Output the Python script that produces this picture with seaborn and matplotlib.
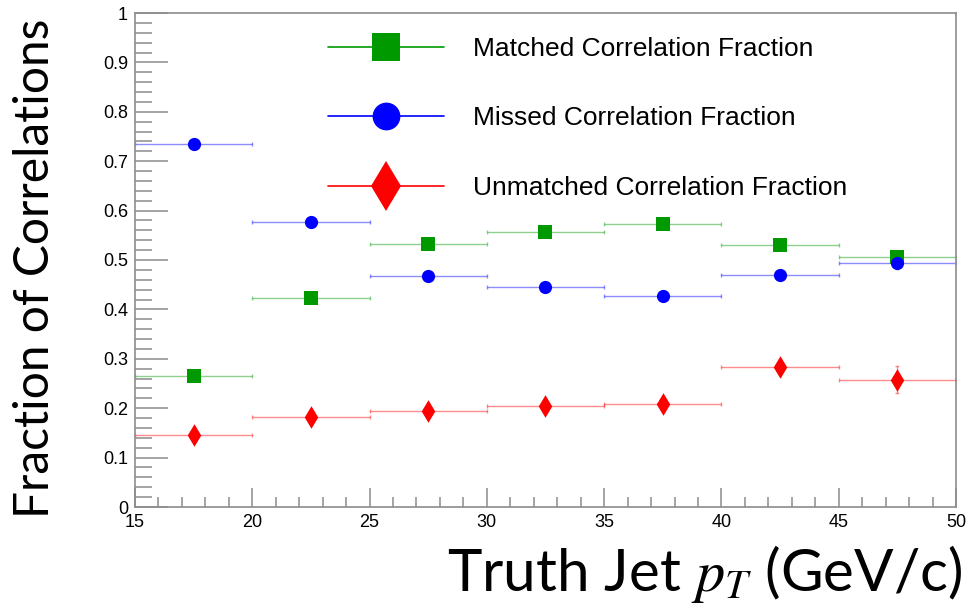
import numpy as np
import pandas as pd
import matplotlib
matplotlib.use("Agg")
import matplotlib.pyplot as plt
from matplotlib.lines import Line2D
from matplotlib.ticker import MultipleLocator, FuncFormatter
import seaborn as sns

# ---- data ----
pt_centers = [17.5, 22.5, 27.5, 32.5, 37.5, 42.5, 47.5]
pt_halfwidth = [2.5, 2.5, 2.5, 2.5, 2.5, 2.5, 2.5]
matched = [0.265, 0.424, 0.533, 0.556, 0.572, 0.531, 0.507]
matched_err = [0.004, 0.005, 0.006, 0.007, 0.008, 0.010, 0.012]
missed = [0.735, 0.576, 0.467, 0.445, 0.427, 0.469, 0.493]
missed_err = [0.004, 0.005, 0.006, 0.007, 0.008, 0.010, 0.012]
unmatched = [0.145, 0.183, 0.195, 0.205, 0.209, 0.284, 0.258]
unmatched_err = [0.004, 0.005, 0.006, 0.007, 0.009, 0.012, 0.028]
labels = ["Matched Correlation Fraction", "Missed Correlation Fraction",
          "Unmatched Correlation Fraction"]
colors = ["#009900", "#0000ff", "#ff0000"]
markers = ["s", "o", "d"]

sns.set_theme(style="white")
plt.rcParams["font.family"] = ["Liberation Sans", "DejaVu Sans"]
plt.rcParams["text.color"] = "black"
plt.rcParams["mathtext.fontset"] = "stix"

fig = plt.figure(figsize=(9.69, 6.06), dpi=100)
ax = fig.add_axes([135 / 969, 1 - 507 / 606, (956 - 135) / 969, (507 - 13) / 606])

rows = []
for name, vals, errs in zip(labels, [matched, missed, unmatched],
                            [matched_err, missed_err, unmatched_err]):
    for x, w, v, e in zip(pt_centers, pt_halfwidth, vals, errs):
        rows.append(dict(series=name, pt=x, xerr=w, frac=v, yerr=e))
df = pd.DataFrame(rows)

msizes = {"s": 9.5, "o": 9.5, "d": 11.5}
for name, col, mk in zip(labels, colors, markers):
    sub = df[df.series == name]
    ax.errorbar(sub.pt, sub.frac, xerr=sub.xerr, yerr=sub.yerr, fmt="none",
                ecolor=col, elinewidth=1.0, alpha=0.45, capsize=1.5,
                capthick=1.0, zorder=2)
    sns.scatterplot(data=sub, x="pt", y="frac", marker=mk, color=col,
                    s=msizes[mk] ** 2, edgecolor=col, linewidth=0,
                    ax=ax, zorder=3, legend=False)

ax.set_xlim(15, 50)
ax.set_ylim(0, 1)
ax.set_xlabel("")
ax.set_ylabel("")

ax.xaxis.set_major_locator(MultipleLocator(5))
ax.xaxis.set_minor_locator(MultipleLocator(1))
ax.yaxis.set_major_locator(MultipleLocator(0.1))
ax.yaxis.set_minor_locator(MultipleLocator(0.02))
ax.yaxis.set_major_formatter(FuncFormatter(lambda v, p: f"{v:g}"))
ax.xaxis.set_major_formatter(FuncFormatter(lambda v, p: f"{v:g}"))

gray = "#8c8c8c"
for s in ax.spines.values():
    s.set_color(gray)
    s.set_linewidth(1.2)
    s.set_visible(True)
ax.tick_params(axis="y", which="major", direction="in", length=24, width=1.1,
               color=gray, labelsize=13, pad=5, labelcolor="black", left=True)
ax.tick_params(axis="y", which="minor", direction="in", length=12, width=1.1,
               color=gray, left=True)
ax.tick_params(axis="x", which="major", direction="in", length=14, width=1.1,
               color=gray, labelsize=13, pad=5, labelcolor="black", bottom=True)
ax.tick_params(axis="x", which="minor", direction="in", length=7, width=1.1,
               color=gray, bottom=True)

handles = [Line2D([0], [0], color=c, marker=m, lw=1.2,
                  markersize=(20 if m != "d" else 25), markeredgewidth=0)
           for c, m in zip(colors, markers)]
leg = ax.legend(handles, labels, loc="upper left", frameon=False,
                bbox_to_anchor=(328 / 969, 1 - 37 / 606),
                bbox_transform=fig.transFigure, fontsize=19,
                handlelength=4.4, handletextpad=1.1, labelspacing=1.72,
                borderpad=0, borderaxespad=0)
for t in leg.get_texts():
    t.set_color("black")

fig.text(35 / 969, 1 - 268 / 606, "Fraction of Correlations", rotation=90,
         ha="center", va="center", fontsize=34.5, family=["Lato", "DejaVu Sans"])
fig.text(962 / 969, 1 - 574 / 606, r"Truth Jet $p_T$ (GeV/c)",
         ha="right", va="center", fontsize=42, family=["Lato", "DejaVu Sans"])

fig.savefig("out.png", dpi=100)
